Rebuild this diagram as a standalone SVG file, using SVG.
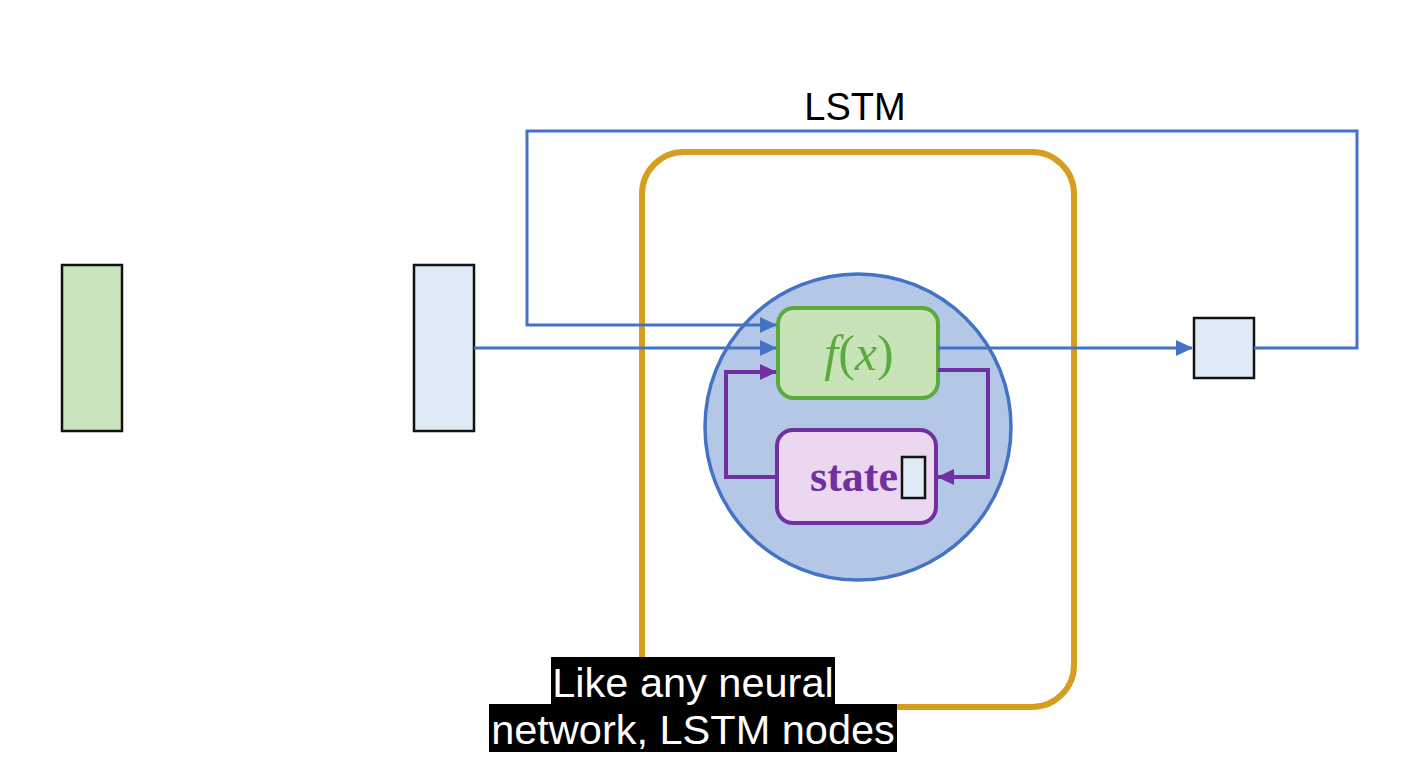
<svg xmlns="http://www.w3.org/2000/svg" width="1404" height="781" viewBox="0 0 1404 781">
<style>
.blue{fill:none;stroke:#4472C4;stroke-width:3}
.purple{fill:none;stroke:#7030A0;stroke-width:4}
.vec{stroke:#111;stroke-width:2.5}
.cap{font-family:"Liberation Sans",Arial,sans-serif;font-size:41.5px;fill:#fff;text-anchor:middle}
</style>
<defs>
<marker id="ab" markerWidth="18" markerHeight="18" refX="16" refY="9" markerUnits="userSpaceOnUse" orient="auto"><path d="M0,1 L17,9 L0,17 Z" fill="#4472C4"/></marker>
<marker id="ap" markerWidth="18" markerHeight="18" refX="16" refY="9" markerUnits="userSpaceOnUse" orient="auto"><path d="M0,1 L17,9 L0,17 Z" fill="#7030A0"/></marker>
</defs>
<rect width="1404" height="781" fill="#fff"/>
<g id="input-green"><rect class="vec" x="62" y="265" width="60" height="166" fill="#C9E3BC"/></g>
<g id="input-blue"><rect class="vec" x="414" y="265" width="60" height="166" fill="#DEEBF7"/></g>
<g id="lstm-label"><text x="855" y="120" font-family="'Liberation Sans',Arial,sans-serif" font-size="38" text-anchor="middle" fill="#000">LSTM</text></g>
<g id="lstm-frame"><rect x="642" y="152" width="432" height="555" rx="42" fill="none" stroke="#D69E1F" stroke-width="6"/></g>
<g id="node-circle"><circle cx="858" cy="427" r="153" fill="#B4C7E7" stroke="#4472C4" stroke-width="3.5"/></g>
<g id="fx"><rect x="778" y="308" width="160" height="90" rx="16" fill="#C9E3B9" stroke="#5BAA3D" stroke-width="4"/>
<text x="859" y="370" font-family="'Liberation Serif','Times New Roman',serif" font-style="italic" font-size="50" text-anchor="middle" fill="#5BAA3D">f<tspan font-style="normal">(</tspan>x<tspan font-style="normal">)</tspan></text></g>
<g id="state"><rect x="777" y="430" width="159" height="93" rx="16" fill="#EBD7EF" stroke="#7030A0" stroke-width="4"/>
<text x="854" y="491" font-family="'Liberation Serif','Times New Roman',serif" font-weight="bold" font-size="44" text-anchor="middle" fill="#7030A0">state</text>
<rect class="vec" x="902" y="457" width="23" height="41" fill="#DEEBF7"/></g>
<g id="output"><rect class="vec" x="1194" y="318" width="60" height="60" fill="#DEEBF7"/></g>
<g id="connectors">
<path class="blue" d="M474,348 H776" marker-end="url(#ab)"/>
<path class="blue" d="M1254,348 H1357 V131 H527 V325 H776" marker-end="url(#ab)"/>
<path class="blue" d="M938,348 H1192" marker-end="url(#ab)"/>
<path class="purple" d="M938,370 H988 V477 H938" marker-end="url(#ap)"/>
<path class="purple" d="M777,477 H726 V372 H776" marker-end="url(#ap)"/>
</g>
<g id="caption">
<rect x="551" y="657" width="284" height="47" fill="#000"/>
<rect x="489" y="704" width="408" height="48" fill="#000"/>
<text class="cap" x="693" y="697">Like any neural</text>
<text class="cap" x="693" y="744">network, LSTM nodes</text>
</g>
</svg>
